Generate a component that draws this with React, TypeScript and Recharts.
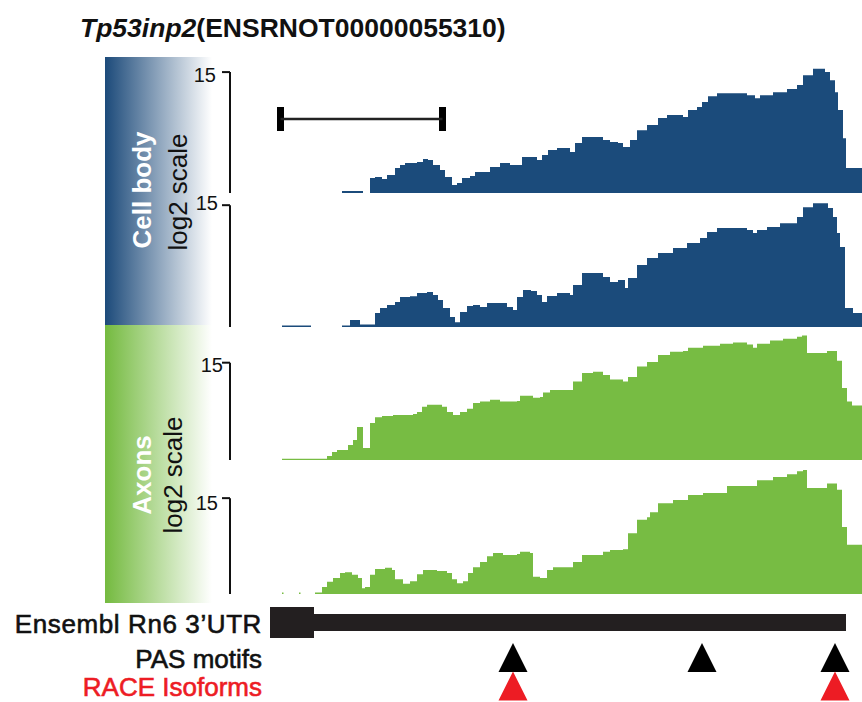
import React from "react";
import {
  AreaChart,
  Area,
  XAxis,
  YAxis,
  ReferenceLine,
  ReferenceArea,
  ScatterChart,
  Scatter,
} from "recharts";

// [position, log2 coverage]; position is relative to the first covered base.
// null marks the start of a gap with no reads.
type Pt = [number, number | null];

const cellBody1: Pt[] = [
  [60, 0.25], [81, null], [88, 1.86], [93, 1.98], [100, 1.73], [105, 2.23],
  [113, 3.1], [118, 3.47], [123, 3.72], [135, 3.84], [141, 4.21], [146, 4.09],
  [151, 3.47], [158, 2.85], [163, 1.98], [170, 0.99], [175, 1.24], [180, 1.86],
  [188, 2.1], [193, 2.6], [208, 3.22], [218, 3.72], [228, 3.47], [240, 4.46],
  [255, 4.09], [260, 4.71], [266, 5.33], [275, 5.58], [288, 5.08], [293, 6.2],
  [300, 6.94], [321, 6.57], [328, 6.32], [336, 6.2], [341, 5.7], [348, 6.57],
  [355, 7.8], [365, 8.43], [376, 9.29], [385, 9.67], [401, 9.42], [406, 10.3],
  [415, 10.66], [420, 11.28], [426, 12.0], [435, 12.39], [465, 12.14],
  [473, 11.77], [478, 12.14], [491, 12.5], [505, 12.9], [515, 13.4],
  [521, 14.6], [531, 15.4], [543, 15.0], [548, 14.0], [553, 12.5],
  [556, 10.3], [561, 6.8], [564, 3.1], [580, 3.1],
];

const cellBody2: Pt[] = [
  [0, 0.2], [29, null], [60, 0.2], [68, 0.86], [78, 0.3], [93, 1.72],
  [98, 2.34], [105, 2.7], [113, 3.07], [118, 3.69], [128, 3.8], [135, 4.18],
  [145, 4.3], [151, 3.94], [156, 3.32], [161, 2.34], [168, 1.23], [173, 0.6],
  [178, 1.85], [185, 2.58], [191, 2.7], [198, 2.46], [205, 2.95], [225, 2.46],
  [231, 2.09], [235, 3.69], [241, 4.55], [249, 4.43], [255, 3.94], [260, 3.07],
  [265, 3.81], [275, 4.18], [288, 3.94], [291, 5.17], [300, 6.64], [321, 6.15],
  [328, 5.54], [336, 5.78], [343, 4.8], [346, 6.03], [355, 7.63], [365, 8.49],
  [376, 9.1], [391, 9.72], [405, 10.33], [418, 10.95], [425, 11.69],
  [435, 12.18], [465, 11.93], [471, 11.56], [475, 11.93], [485, 12.3],
  [498, 12.79], [515, 13.53], [521, 14.76], [531, 15.25], [546, 14.64],
  [551, 13.53], [555, 11.56], [558, 9.84], [563, 2.34], [571, 1.72], [580, 1.48],
];

const axons1: Pt[] = [
  [0, 0.2], [45, 0.62], [50, 1.24], [55, 1.55], [66, 2.3], [71, 3.1],
  [75, 5.1], [81, 1.85], [88, 5.7], [93, 6.6], [100, 6.8], [111, 6.95],
  [131, 7.1], [135, 7.4], [140, 8.2], [145, 8.5], [160, 8.2], [165, 7.4],
  [171, 6.95], [178, 7.4], [185, 7.9], [191, 8.8], [198, 9.0], [208, 9.3],
  [218, 9.0], [235, 9.1], [238, 9.9], [251, 9.6], [258, 9.7], [261, 10.4],
  [268, 10.8], [291, 12.1], [300, 13.4], [311, 13.6], [321, 13.1], [328, 12.4],
  [341, 12.1], [346, 12.8], [355, 14.4], [365, 15.1], [376, 16.2], [388, 16.7],
  [401, 16.8], [406, 17.3], [421, 17.6], [438, 17.9], [451, 18.1], [465, 17.8],
  [471, 17.3], [475, 17.9], [488, 18.4], [501, 18.7], [515, 19.0], [520, 19.2],
  [525, 16.5], [545, 16.8], [555, 15.3], [560, 11.1], [565, 9.0], [570, 8.4],
  [580, 8.2],
];

const axons2: Pt[] = [
  [0, 0.25], [1.5, null], [17, 0.25], [18.5, null], [33, 0.25], [40, 1.1],
  [45, 1.9], [51, 2.5], [58, 3.3], [63, 3.4], [70, 3.0], [76, 2.5], [80, 0.9],
  [83, 1.1], [88, 3.0], [93, 3.9], [103, 4.1], [110, 3.75], [113, 2.3],
  [121, 1.6], [128, 2.0], [135, 3.1], [141, 3.75], [155, 3.6], [165, 3.3],
  [170, 2.3], [175, 1.7], [181, 2.0], [186, 3.3], [191, 4.2], [198, 5.0],
  [205, 5.9], [211, 6.4], [221, 6.1], [235, 6.25], [238, 6.6], [248, 6.4],
  [251, 2.7], [258, 2.5], [265, 3.75], [271, 4.2], [291, 5.0], [300, 6.1],
  [321, 6.6], [328, 6.9], [341, 7.0], [346, 9.5], [355, 11.6], [365, 12.0],
  [368, 12.8], [376, 14.2], [391, 14.7], [406, 15.5], [421, 15.8], [445, 16.9],
  [475, 17.8], [491, 18.3], [505, 18.75], [515, 19.2], [521, 19.4], [525, 16.6],
  [545, 17.3], [555, 16.3], [560, 10.5], [565, 7.7], [580, 7.3],
];

// 3'UTR model and features (same position units)
const utr = { start: -12, thickEnd: 32, end: 564 };
const pasMotifs = [231, 420, 553];
const raceIsoforms = [231, 553];
const scaleBar = { start: -1.5, end: 160.5 };

const X_DOMAIN: [number, number] = [-82, 580];
const AXIS_X = -52;
const BLUE = "#1b4b7b";
const GREEN = "#77bc43";
const FONT = "'Liberation Sans', Arial, Helvetica, sans-serif";

function toRows(points: Pt[]) {
  const rows: { pos: number; v: number | null }[] = [];
  points.forEach(([pos, v], i) => {
    // hold the previous level up to the gap, then break the area
    if (v === null && i > 0) rows.push({ pos, v: points[i - 1][1] });
    rows.push({ pos, v });
  });
  return rows;
}

interface TrackProps {
  points: Pt[];
  color: string;
  top: number;
  height: number;
  yMax: number;
  children?: React.ReactNode;
}

function CoverageTrack({ points, color, top, height, yMax, children }: TrackProps) {
  return (
    <div style={{ position: "absolute", left: 200, top }}>
      <AreaChart
        width={662}
        height={height}
        data={toRows(points)}
        margin={{ top: 0, right: 0, bottom: 0, left: 0 }}
      >
        <XAxis dataKey="pos" type="number" domain={X_DOMAIN} hide allowDataOverflow />
        <YAxis type="number" domain={[0, yMax]} hide allowDataOverflow />
        <Area
          type="stepAfter"
          dataKey="v"
          stroke="none"
          fill={color}
          fillOpacity={1}
          baseValue={0}
          connectNulls={false}
          dot={false}
          activeDot={false}
          isAnimationActive={false}
        />
        <ReferenceLine
          segment={[{ x: AXIS_X, y: 0 }, { x: AXIS_X, y: 15 }]}
          stroke="#111"
          strokeWidth={2}
        />
        <ReferenceLine
          segment={[{ x: AXIS_X - 8, y: 15 }, { x: AXIS_X, y: 15 }]}
          stroke="#111"
          strokeWidth={2}
        />
        {children}
      </AreaChart>
    </div>
  );
}

function Triangle(props: { cx?: number; cy?: number; fill?: string }) {
  const { cx = 0, cy = 0, fill } = props;
  const h = 14.5;
  return <path d={`M${cx},${cy - h} L${cx + h},${cy + h} L${cx - h},${cy + h} Z`} fill={fill} />;
}

const LANE = { pas: 55.5, race: 84 };

function Label15({ right, top }: { right: number; top: number }) {
  return (
    <div
      style={{
        position: "absolute",
        left: right - 40,
        top,
        width: 40,
        textAlign: "right",
        fontSize: 20,
        lineHeight: "24px",
        color: "#111",
      }}
    >
      15
    </div>
  );
}

function Rotated({ cx, cy, text, color, bold }: { cx: number; cy: number; text: string; color: string; bold?: boolean }) {
  return (
    <div
      style={{
        position: "absolute",
        left: cx - 100,
        top: cy - 15,
        width: 200,
        height: 30,
        lineHeight: "30px",
        textAlign: "center",
        fontSize: 26,
        fontWeight: bold ? 700 : 400,
        color,
        transform: "rotate(-90deg)",
        whiteSpace: "nowrap",
      }}
    >
      {text}
    </div>
  );
}

function RowLabel({ top, text, color, spacing = 0 }: { top: number; text: string; color: string; spacing?: number }) {
  return (
    <div
      style={{
        position: "absolute",
        left: 0,
        width: 262,
        top,
        height: 22,
        textAlign: "right",
        fontSize: 26,
        lineHeight: "22px",
        letterSpacing: spacing,
        color,
        whiteSpace: "nowrap",
        WebkitTextStroke: `0.6px ${color}`,
      }}
    >
      {text}
    </div>
  );
}

export default function App() {
  return (
    <div
      style={{
        position: "absolute",
        left: 0,
        top: 0,
        width: 862,
        height: 702,
        background: "#fff",
        overflow: "hidden",
        fontFamily: FONT,
      }}
    >
      <div
        style={{
          position: "absolute",
          left: 80,
          top: 13,
          fontSize: 26.5,
          lineHeight: "30px",
          fontWeight: 700,
          color: "#111",
          whiteSpace: "nowrap",
        }}
      >
        <i>Tp53inp2</i>(ENSRNOT00000055310)
      </div>

      <div
        style={{
          position: "absolute",
          left: 105,
          top: 57,
          width: 107,
          height: 268,
          background: "linear-gradient(to right, #1c4a7a, #ffffff)",
        }}
      />
      <div
        style={{
          position: "absolute",
          left: 105,
          top: 325,
          width: 107,
          height: 278,
          background: "linear-gradient(to right, #74ba3f, #ffffff)",
        }}
      />
      <Rotated cx={142} cy={190} text="Cell body" color="#fff" bold />
      <Rotated cx={178} cy={192} text="log2 scale" color="#111" />
      <Rotated cx={142} cy={475} text="Axons" color="#fff" bold />
      <Rotated cx={173} cy={475} text="log2 scale" color="#111" />

      <CoverageTrack points={cellBody1} color={BLUE} top={60} height={133} yMax={16.5}>
        <ReferenceLine
          segment={[{ x: scaleBar.start, y: 9.18 }, { x: scaleBar.end, y: 9.18 }]}
          stroke="#222"
          strokeWidth={2.5}
        />
        <ReferenceArea x1={scaleBar.start - 3.5} x2={scaleBar.start + 3.5} y1={7.69} y2={10.67} fill="#000" fillOpacity={1} stroke="none" />
        <ReferenceArea x1={scaleBar.end - 3.5} x2={scaleBar.end + 3.5} y1={7.69} y2={10.67} fill="#000" fillOpacity={1} stroke="none" />
      </CoverageTrack>
      <CoverageTrack points={cellBody2} color={BLUE} top={193} height={134} yMax={16.5} />
      <CoverageTrack points={axons1} color={GREEN} top={327} height={133} yMax={20.5} />
      <CoverageTrack points={axons2} color={GREEN} top={463} height={131} yMax={20.5} />

      <Label15 right={216} top={63} />
      <Label15 right={218} top={191} />
      <Label15 right={223} top={353} />
      <Label15 right={218} top={491} />

      <div style={{ position: "absolute", left: 200, top: 602 }}>
        <ScatterChart width={662} height={100} margin={{ top: 0, right: 0, bottom: 0, left: 0 }}>
          <XAxis dataKey="pos" type="number" domain={X_DOMAIN} hide allowDataOverflow />
          <YAxis dataKey="lane" type="number" domain={[0, 100]} reversed hide allowDataOverflow />
          <ReferenceArea x1={utr.start} x2={utr.thickEnd} y1={5} y2={36} fill="#231f20" fillOpacity={1} stroke="none" />
          <ReferenceArea x1={utr.thickEnd} x2={utr.end} y1={12} y2={29} fill="#231f20" fillOpacity={1} stroke="none" />
          <Scatter
            data={pasMotifs.map((pos) => ({ pos, lane: LANE.pas }))}
            fill="#000"
            shape={(p: { cx?: number; cy?: number }) => <Triangle {...p} fill="#000" />}
            isAnimationActive={false}
          />
          <Scatter
            data={raceIsoforms.map((pos) => ({ pos, lane: LANE.race }))}
            fill="#ed1c24"
            shape={(p: { cx?: number; cy?: number }) => <Triangle {...p} fill="#ed1c24" />}
            isAnimationActive={false}
          />
        </ScatterChart>
      </div>

      <RowLabel top={613} text="Ensembl Rn6 3’UTR" color="#111" spacing={0.6} />
      <RowLabel top={648} text="PAS motifs" color="#111" />
      <RowLabel top={676} text="RACE Isoforms" color="#ed1c24" />
    </div>
  );
}
